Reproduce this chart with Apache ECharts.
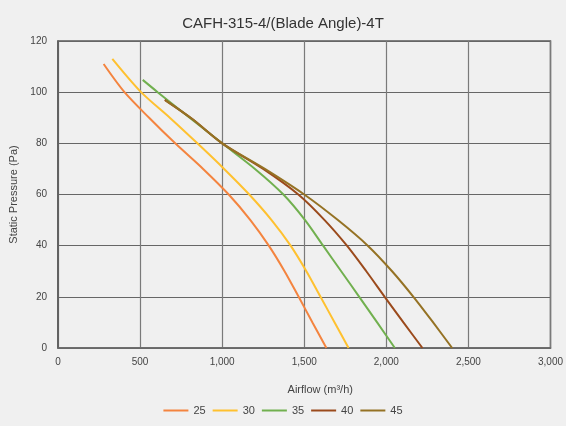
<!DOCTYPE html>
<html>
<head>
<meta charset="utf-8">
<title>CAFH-315-4/(Blade Angle)-4T</title>
<script src="https://cdn.jsdelivr.net/npm/echarts@6/dist/echarts.min.js"></script>
<style>
  html, body { margin: 0; padding: 0; background: #f0f0f0; }
  #chart { width: 566px; height: 426px; }
</style>
</head>
<body>
<div id="chart"></div>
<script>
// blade angles
const angles = ["25", "30", "35", "40", "45"];

// airflow (m3/h) / static pressure (Pa)
const flow25 = [278, 405, 555, 714, 884, 1040, 1172, 1284, 1380, 1466, 1550, 1635];
const pres25 = [111, 100, 90, 80, 70, 60, 50, 40, 30, 20, 10, 0];

const flow30 = [331, 506, 681, 849, 1012, 1165, 1301, 1417, 1513, 1599, 1685, 1770];
const pres30 = [113, 100, 90, 80, 70, 60, 50, 40, 30, 20, 10, 0];

const flow35 = [516, 607, 802, 1000, 1200, 1373, 1505, 1615, 1725, 1835, 1944, 2052];
const pres35 = [104.8, 100, 90, 80, 70, 60, 50, 40, 30, 20, 10, 0];

const flow40 = [650, 818, 1000, 1250, 1464, 1624, 1760, 1878, 1990, 2104, 2220];
const pres40 = [97, 89.5, 80, 70, 60, 50, 40, 30, 20, 10, 0];

const flow45 = [655, 818, 1000, 1260, 1500, 1705, 1887, 2035, 2165, 2285, 2401];
const pres45 = [96.8, 89.5, 80, 70, 60, 50, 40, 30, 20, 10, 0];

const colors = ["#f4843f", "#ffc12f", "#71b04f", "#9b4a1c", "#957224"];
const flows = [flow25, flow30, flow35, flow40, flow45];
const pressures = [pres25, pres30, pres35, pres40, pres45];

function withCommas(v) {
  return String(v).replace(/\B(?=(\d{3})+(?!\d))/g, ",");
}

const chart = echarts.init(document.getElementById("chart"));

const series = angles.map(function (name, i) {
  return {
    name: name,
    type: "line",
    smooth: 0.3,
    symbol: "none",
    lineStyle: { width: 2, color: colors[i] },
    itemStyle: { color: colors[i] },
    data: flows[i].map(function (x, k) { return [x, pressures[i][k]]; })
  };
});

chart.setOption({
  backgroundColor: "#f0f0f0",
  animation: false,
  title: {
    text: "CAFH-315-4/(Blade Angle)-4T",
    left: "center",
    top: 11,
    textStyle: { fontFamily: "Liberation Sans", fontSize: 15, fontWeight: "normal", color: "#333" }
  },
  legend: {
    data: angles,
    bottom: 5,
    left: "center",
    icon: "rect",
    itemWidth: 25,
    itemHeight: 2,
    itemGap: 7,
    textStyle: { fontFamily: "Liberation Sans", fontSize: 11, color: "#444" }
  },
  grid: {
    left: 58, right: 12, top: 41, bottom: 78,
    show: true,
    borderColor: "#5a5a5a",
    borderWidth: 1.5
  },
  xAxis: {
    type: "value",
    min: 0, max: 3000, interval: 500,
    name: "Airflow (m³/h)",
    nameLocation: "middle",
    nameGap: 36,
    nameTextStyle: { fontFamily: "Liberation Sans", fontSize: 11, color: "#444", padding: [0, 0, 0, 32] },
    axisLine: { lineStyle: { color: "#6a6a6a", width: 1.5 } },
    axisTick: { show: false },
    axisLabel: { formatter: withCommas, margin: 9, fontFamily: "Liberation Sans", fontSize: 10, color: "#444" },
    splitLine: { lineStyle: { color: "#7a7a7a", width: 1.2 } }
  },
  yAxis: {
    type: "value",
    min: 0, max: 120, interval: 20,
    name: "Static Pressure (Pa)",
    nameLocation: "middle",
    nameGap: 38,
    nameTextStyle: { fontFamily: "Liberation Sans", fontSize: 11, color: "#444" },
    axisLine: { show: true, lineStyle: { color: "#5a5a5a", width: 1.5 } },
    axisTick: { show: false },
    axisLabel: { margin: 11, fontFamily: "Liberation Sans", fontSize: 10, color: "#444" },
    splitLine: { lineStyle: { color: "#666", width: 1.2 } }
  },
  series: series
});
</script>
</body>
</html>
